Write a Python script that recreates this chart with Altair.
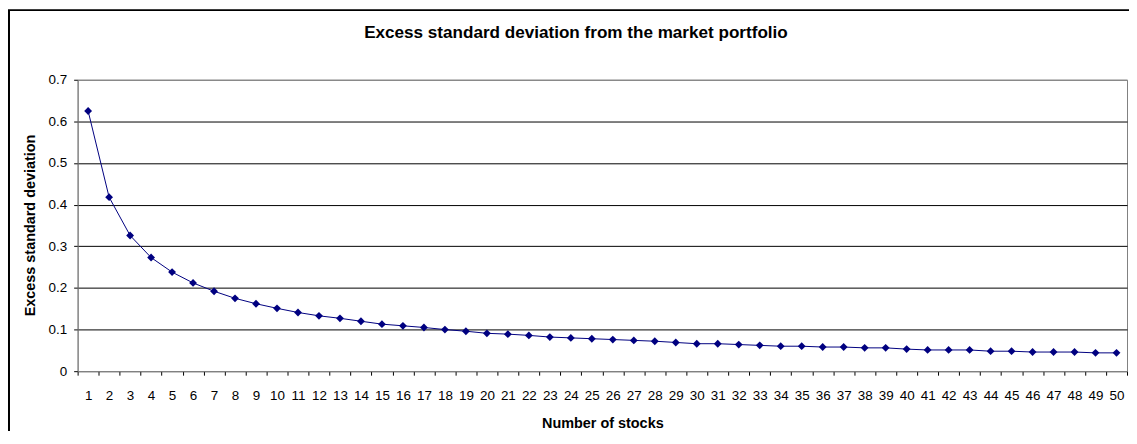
import altair as alt
import pandas as pd

stocks = list(range(1, 51))
excess_sd = [0.625, 0.418, 0.326, 0.273, 0.238, 0.212, 0.192, 0.175, 0.162, 0.151,
             0.141, 0.133, 0.127, 0.120, 0.113, 0.109, 0.105, 0.100, 0.096, 0.091,
             0.089, 0.086, 0.082, 0.080, 0.078, 0.076, 0.074, 0.072, 0.069, 0.066,
             0.066, 0.064, 0.062, 0.060, 0.060, 0.058, 0.058, 0.056, 0.056, 0.053,
             0.051, 0.051, 0.051, 0.048, 0.048, 0.046, 0.046, 0.046, 0.044, 0.044]
y_ticks = [0, 0.1, 0.2, 0.3, 0.4, 0.5, 0.6, 0.7]

df = pd.DataFrame({"n": stocks, "sd": excess_sd})
FONT = "Liberation Sans"
NAVY = "#000080"
GRAY = "#808080"

x_enc = alt.X(
    "n:O",
    sort=stocks,
    scale=alt.Scale(paddingInner=0, paddingOuter=0),
    axis=alt.Axis(
        title="Number of stocks",
        labelAngle=0,
        tickBand="extent",
        tickSize=4,
        tickColor="black",
        domainColor=GRAY,
        labelPadding=13,
        labelFontSize=13.5,
        labelColor="black",
        labelFont=FONT,
        titleFont=FONT,
        titleFontSize=14.5,
        titleFontWeight="bold",
        titleColor="black",
        titleY=53,
        titleBaseline="middle",
        grid=False,
    ),
)
y_enc = alt.Y(
    "sd:Q",
    scale=alt.Scale(domain=[0, 0.7], nice=False),
    axis=alt.Axis(
        title="Excess standard deviation",
        values=y_ticks,
        format=".1~f",
        tickSize=4,
        tickColor="black",
        domainColor=GRAY,
        labelPadding=7,
        labelFontSize=13.5,
        labelColor="black",
        labelFont=FONT,
        titleFont=FONT,
        titleFontSize=14.5,
        titleFontWeight="bold",
        titleColor="black",
        titleX=-47,
        titleY=146,
        titleBaseline="middle",
        titleAlign="center",
        grid=True,
        gridColor=alt.condition("datum.value < 0.01 || datum.value > 0.69", alt.value(GRAY), alt.value("black")),
        gridWidth=1,
    ),
)

base = alt.Chart(df)
line = base.mark_line(color=NAVY, strokeWidth=1).encode(x=x_enc, y=y_enc)
pts = base.mark_point(shape="diamond", filled=True, color=NAVY, size=62, opacity=1).encode(x=x_enc, y=y_enc)

frame = alt.Chart(pd.DataFrame({"a": [0]})).mark_rect(
    fill=None, stroke="black", strokeWidth=2, clip=False
).encode(
    x=alt.value(-69), x2=alt.value(1200), y=alt.value(-70), y2=alt.value(800)
)

title = alt.Chart(pd.DataFrame({"t": ["Excess standard deviation from the market portfolio"]})).mark_text(
    font=FONT, fontSize=17.2, fontWeight="bold", color="black", align="center", baseline="middle"
).encode(text="t:N", x=alt.value(501), y=alt.value(-47))

chart = alt.layer(frame, line, pts, title).properties(
    width=1055,
    height=293,
    padding={"left": 70, "top": 71, "right": 2, "bottom": 59},
    autosize=alt.AutoSizeParams(type="none"),
    background="white",
).configure_view(stroke=GRAY, strokeWidth=1)

chart.save("out.html", embed_options={"renderer": "svg", "actions": False})
